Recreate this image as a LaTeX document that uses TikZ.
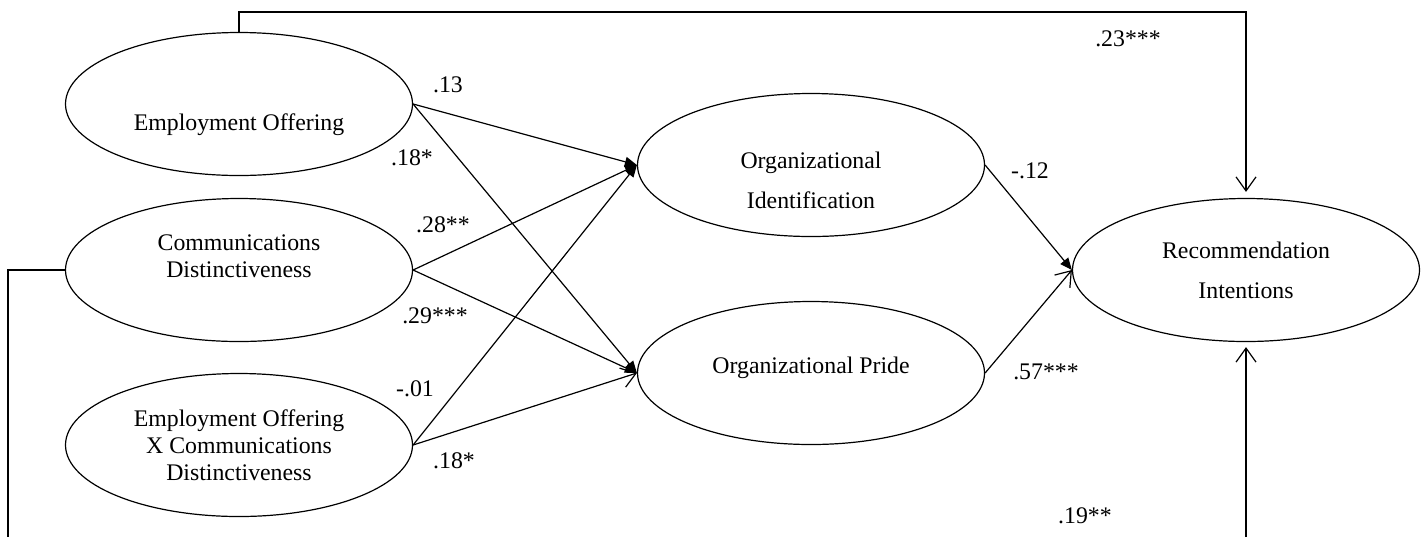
\documentclass[tikz,border=0pt]{standalone}
\usepackage{fontspec}
\setmainfont{Liberation Serif}
\usetikzlibrary{shapes.geometric,arrows.meta}

\begin{document}
\begin{tikzpicture}[
        x=0.5pt, y=-0.5pt,
        every node/.append style={font=\fontsize{11.9}{13.5}\selectfont},
        every label/.style={align=center},
        construct/.style={ellipse, draw, line width=0.6pt, minimum width=173.5pt, minimum height=71.5pt, inner sep=0pt},
        coef/.style={inner sep=0pt},
        fullarrow/.style={-{Triangle[length=6pt,width=5pt]}, line width=0.6pt},
        openarrow/.style={-{Straight Barb[length=7pt,width=10pt]}, line width=0.6pt}
      ]
      \useasboundingbox (0,0) rectangle (1427,537);

      % Predictors
      \node[construct, label={[yshift=-10.5pt]center:Employment Offering}] (EO) at (239,104) {};
      \node[construct, label={[yshift=7pt]center:Communications\\Distinctiveness}] (CD) at (239,270) {};
      \node[construct, label={center:Employment Offering\\X Communications\\Distinctiveness}] (EOxCD) at (239,445) {};

      % Mediators
      \node[construct, label={[yshift=-7.5pt]center:Organizational\\[6.5pt]Identification}] (OI) at (811,165) {};
      \node[construct, label={[yshift=2.5pt]center:Organizational Pride}] (OP) at (811,373) {};

      % Outcome
      \node[construct, label={center:Recommendation\\[6.5pt]Intentions}] (RI) at (1246,270) {};

      % Paths to mediators
      \draw[fullarrow] (EO.east) -- (OI.west);
      \draw[fullarrow] (EO.east) -- (OP.west);
      \draw[fullarrow] (CD.east) -- (OI.west);
      \draw[fullarrow] (CD.east) -- (OP.west);
      \draw[fullarrow] (EOxCD.east) -- (OI.west);
      \draw[openarrow] (EOxCD.east) -- (OP.west);

      % Paths to outcome
      \draw[fullarrow] (OI.east) -- (RI.west);
      \draw[openarrow] (OP.east) -- (RI.west);

      % Direct paths
      \coordinate (topR) at (RI.north |- 0,12);
      \draw[openarrow, shorten >=3pt] (EO.north) |- (topR) -- (RI.north);
      \coordinate (botL) at (8,537);
      \draw[line width=0.6pt] (CD.west) -| (botL);
      \coordinate (botR) at (RI.south |- 0,537);
      \draw[openarrow, shorten >=2.5pt] (botR) -- (RI.south);

      % Coefficients
      \node[coef] (b1) at (448,85) {.13};
      \node[coef] (b2) at (412,158) {.18*};
      \node[coef] (b3) at (443,225) {.28**};
      \node[coef] (b4) at (435,316) {.29***};
      \node[coef] (b5) at (415,389) {-.01};
      \node[coef] (b6) at (454,461) {.18*};
      \node[coef] (b7) at (1030,171) {-.12};
      \node[coef] (b8) at (1046,372) {.57***};
      \node[coef] (b9) at (1128,39) {.23***};
      \node[coef] (b10) at (1085,516) {.19**};

\end{tikzpicture}
\end{document}
